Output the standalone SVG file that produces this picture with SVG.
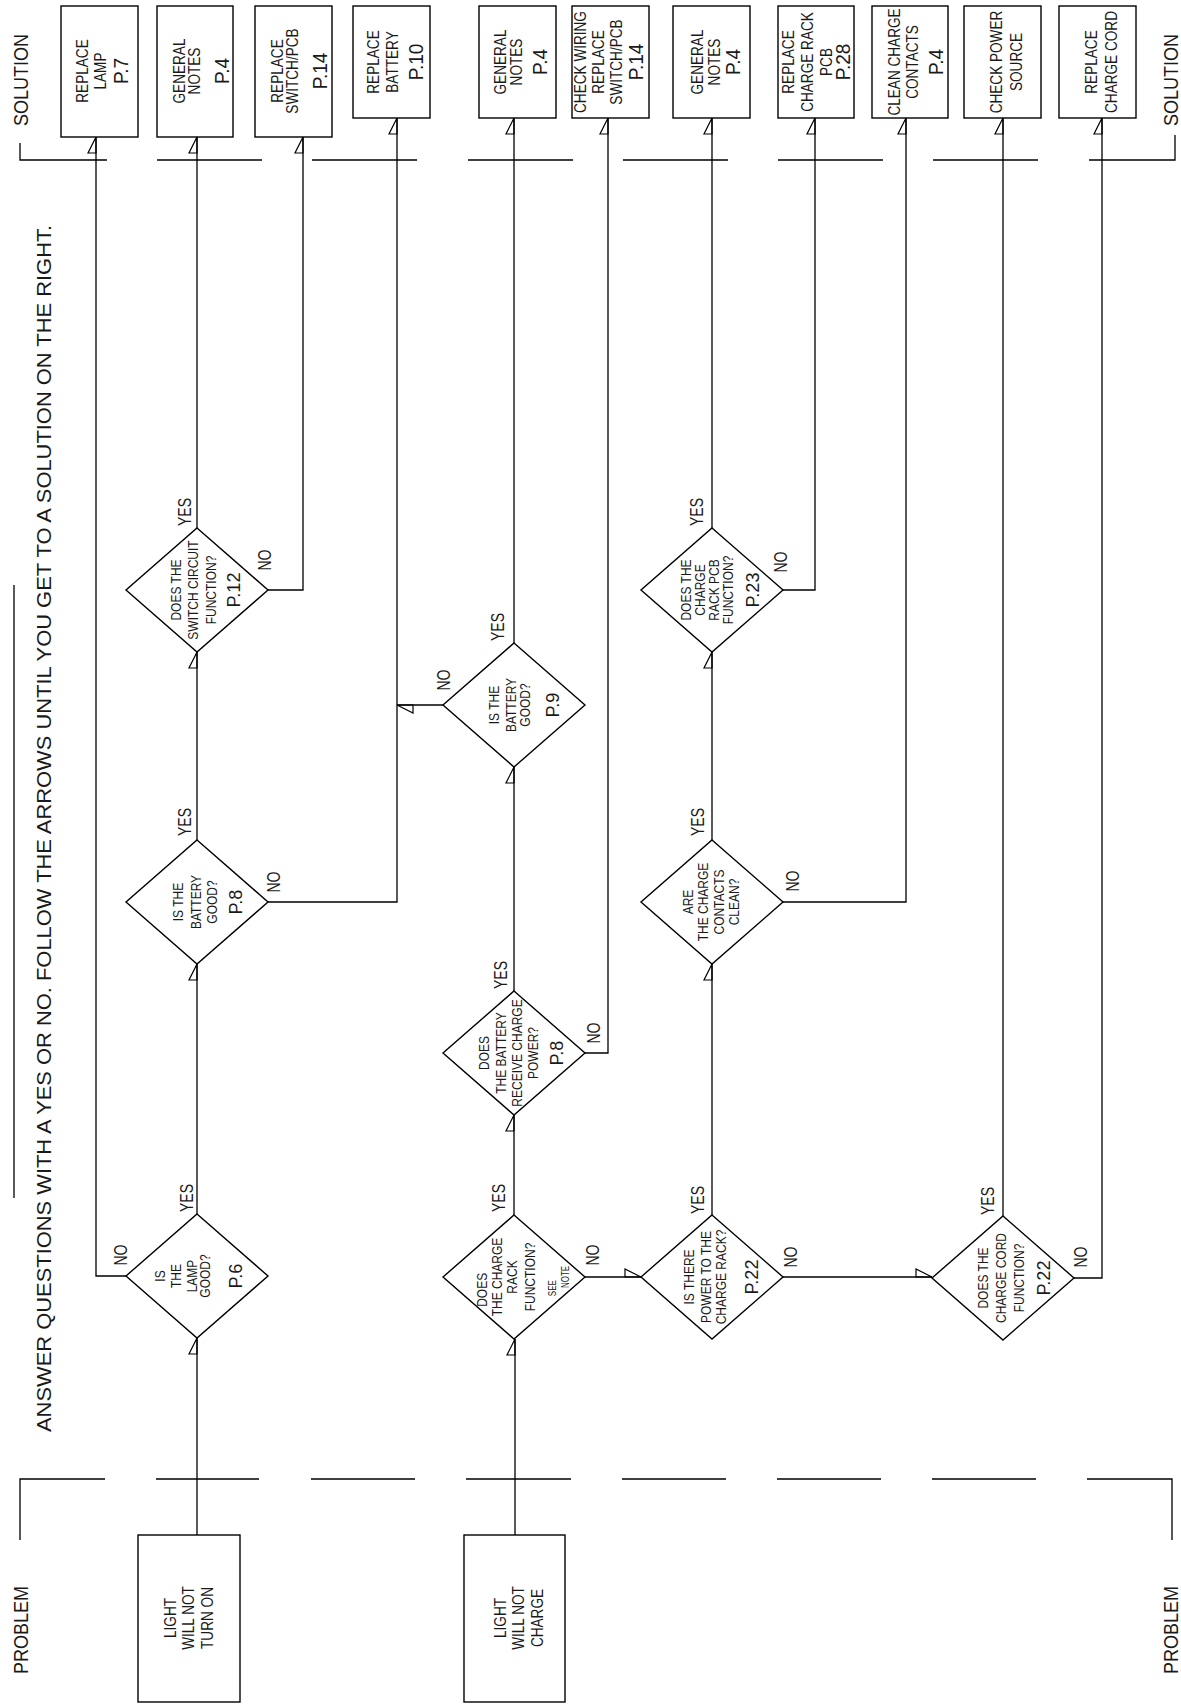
<svg xmlns="http://www.w3.org/2000/svg" width="1181" height="1704" viewBox="0 0 1181 1704">
<style>
.ln{fill:none;stroke:#000;stroke-width:1.3}
.sh{fill:none;stroke:#000;stroke-width:1.4}
text{font-family:"Liberation Sans",Arial,sans-serif;fill:#1a1a1a;text-anchor:middle;dominant-baseline:central}
.w{font-size:17px}
.pg{font-size:20px}
.dw{font-size:15px}
.dp{font-size:19px}
.lb{font-size:18px}
.sm{font-size:10px}
.hd{font-size:20px;text-anchor:start}
.ttl{font-size:20px}
</style>
<defs>
<marker id="ah" markerUnits="userSpaceOnUse" orient="auto" refX="0" refY="0" markerWidth="1" markerHeight="1" style="overflow:visible"><path d="M0,0 L-16,-8 L-16,0 Z" fill="none" stroke="#000" stroke-width="1.2"/></marker>
<polygon id="dia" points="0,-62 71,0 0,62 -71,0" class="sh"/>
</defs>
<rect width="1181" height="1704" fill="#fff"/>

<g id="frame">
<path class="ln" d="M14,585 V1198"/>
<path class="ln" d="M20,143 V160 H107 M157,160 H262 M312,160 H417 M468,160 H573 M623,160 H728 M778,160 H883 M933,160 H1038 M1089,160 H1175 V135"/>
<path class="ln" d="M20,1540 V1479 H105 M156,1479 H259 M311,1479 H415 M466,1479 H571 M622,1479 H726 M777,1479 H881 M932,1479 H1036 M1087,1479 H1172 V1540"/>
<text class="hd" transform="translate(44,1432) rotate(-90)" textLength="1207" lengthAdjust="spacingAndGlyphs">ANSWER QUESTIONS WITH A YES OR NO. FOLLOW THE ARROWS UNTIL YOU GET TO A SOLUTION ON THE RIGHT.</text>
<text class="ttl" transform="translate(21,80) rotate(-90) scale(.9,1)">SOLUTION</text>
<text class="ttl" transform="translate(1171,80) rotate(-90) scale(.9,1)">SOLUTION</text>
<text class="ttl" transform="translate(21,1630) rotate(-90) scale(.9,1)">PROBLEM</text>
<text class="ttl" transform="translate(1171,1630) rotate(-90) scale(.9,1)">PROBLEM</text>
</g>

<g id="connectors">
<path class="ln" marker-end="url(#ah)" d="M197,1535 V1338"/>
<path class="ln" marker-end="url(#ah)" d="M197,1214 V964"/>
<path class="ln" marker-end="url(#ah)" d="M126,1276 H96 V137"/>
<path class="ln" marker-end="url(#ah)" d="M197,840 V652"/>
<path class="ln" marker-end="url(#ah)" d="M268,902 H397 V118"/>
<path class="ln" marker-end="url(#ah)" d="M197,528 V137"/>
<path class="ln" marker-end="url(#ah)" d="M268,590 H303 V137"/>
<path class="ln" marker-end="url(#ah)" d="M515,1535 V1339"/>
<path class="ln" marker-end="url(#ah)" d="M514,1215 V1115"/>
<path class="ln" marker-end="url(#ah)" d="M585,1277 H641"/>
<path class="ln" marker-end="url(#ah)" d="M514,991 V767"/>
<path class="ln" marker-end="url(#ah)" d="M585,1053 H608 V118"/>
<path class="ln" marker-end="url(#ah)" d="M514,643 V118"/>
<path class="ln" marker-end="url(#ah)" d="M443,705 H397"/>
<path class="ln" marker-end="url(#ah)" d="M712,1215 V964"/>
<path class="ln" marker-end="url(#ah)" d="M783,1277 H932"/>
<path class="ln" marker-end="url(#ah)" d="M712,840 V652"/>
<path class="ln" marker-end="url(#ah)" d="M783,902 H906 V118"/>
<path class="ln" marker-end="url(#ah)" d="M712,528 V118"/>
<path class="ln" marker-end="url(#ah)" d="M783,590 H815 V118"/>
<path class="ln" marker-end="url(#ah)" d="M1003,1216 V118"/>
<path class="ln" marker-end="url(#ah)" d="M1074,1278 H1102 V118"/>
</g>

<g id="labels">
<text class="lb" transform="translate(186,1198) rotate(-90) scale(.78,1)">YES</text>
<text class="lb" transform="translate(120,1255) rotate(-90) scale(.78,1)">NO</text>
<text class="lb" transform="translate(184,822) rotate(-90) scale(.78,1)">YES</text>
<text class="lb" transform="translate(273,882) rotate(-90) scale(.78,1)">NO</text>
<text class="lb" transform="translate(184,512) rotate(-90) scale(.78,1)">YES</text>
<text class="lb" transform="translate(264,560) rotate(-90) scale(.78,1)">NO</text>
<text class="lb" transform="translate(498,1198) rotate(-90) scale(.78,1)">YES</text>
<text class="lb" transform="translate(592,1255) rotate(-90) scale(.78,1)">NO</text>
<text class="lb" transform="translate(500,975) rotate(-90) scale(.78,1)">YES</text>
<text class="lb" transform="translate(593,1033) rotate(-90) scale(.78,1)">NO</text>
<text class="lb" transform="translate(497,627) rotate(-90) scale(.78,1)">YES</text>
<text class="lb" transform="translate(443,680) rotate(-90) scale(.78,1)">NO</text>
<text class="lb" transform="translate(697,1200) rotate(-90) scale(.78,1)">YES</text>
<text class="lb" transform="translate(790,1257) rotate(-90) scale(.78,1)">NO</text>
<text class="lb" transform="translate(697,822) rotate(-90) scale(.78,1)">YES</text>
<text class="lb" transform="translate(792,881) rotate(-90) scale(.78,1)">NO</text>
<text class="lb" transform="translate(696,512) rotate(-90) scale(.78,1)">YES</text>
<text class="lb" transform="translate(780,562) rotate(-90) scale(.78,1)">NO</text>
<text class="lb" transform="translate(987,1201) rotate(-90) scale(.78,1)">YES</text>
<text class="lb" transform="translate(1080,1257) rotate(-90) scale(.78,1)">NO</text>
</g>

<g id="p1"><rect class="sh" x="138" y="1535" width="102" height="167"/>
<g transform="translate(189,1618) rotate(-90) scale(.8,1)">
<text class="w" y="-19">LIGHT</text><text class="w" y="-1">WILL NOT</text><text class="w" y="18">TURN ON</text></g></g>
<g id="p2"><rect class="sh" x="464" y="1535" width="101" height="167"/>
<g transform="translate(514.5,1618) rotate(-90) scale(.8,1)">
<text class="w" y="-14.5">LIGHT</text><text class="w" y="3.5">WILL NOT</text><text class="w" y="22.5">CHARGE</text></g></g>

<g id="s1"><rect class="sh" x="61" y="6" width="77" height="131"/>
<g transform="translate(99.5,71) rotate(-90) scale(.8,1)">
<text class="w" y="-17.5">REPLACE</text><text class="w" y="0.5">LAMP</text><text class="pg" y="21.5" transform="scale(1.19,1)">P.7</text></g></g>
<g id="s2"><rect class="sh" x="157" y="6" width="76" height="131"/>
<g transform="translate(195,71) rotate(-90) scale(.8,1)">
<text class="w" y="-16">GENERAL</text><text class="w" y="-1">NOTES</text><text class="pg" y="27" transform="scale(1.19,1)">P.4</text></g></g>
<g id="s3"><rect class="sh" x="255" y="6" width="77" height="131"/>
<g transform="translate(293.5,71) rotate(-90) scale(.8,1)">
<text class="w" y="-16.5">REPLACE</text><text class="w" y="-1.5">SWITCH/PCB</text><text class="pg" y="26.5" transform="scale(1.19,1)">P.14</text></g></g>
<g id="s4"><rect class="sh" x="353" y="6" width="77" height="112"/>
<g transform="translate(391.5,62) rotate(-90) scale(.8,1)">
<text class="w" y="-18.5">REPLACE</text><text class="w" y="0">BATTERY</text><text class="pg" y="24.5" transform="scale(1.19,1)">P.10</text></g></g>
<g id="s5"><rect class="sh" x="479" y="6" width="77" height="112"/>
<g transform="translate(517.5,62) rotate(-90) scale(.8,1)">
<text class="w" y="-17.5">GENERAL</text><text class="w" y="-1.5">NOTES</text><text class="pg" y="22.5" transform="scale(1.19,1)">P.4</text></g></g>
<g id="s6"><rect class="sh" x="572" y="6" width="77" height="112"/>
<g transform="translate(610.5,62) rotate(-90) scale(.8,1)">
<text class="w" y="-30.5">CHECK  WIRING</text><text class="w" y="-12.5">REPLACE</text><text class="w" y="5.5">SWITCH/PCB</text><text class="pg" y="25.5" transform="scale(1.19,1)">P.14</text></g></g>
<g id="s7"><rect class="sh" x="673" y="6" width="77" height="112"/>
<g transform="translate(711.5,62) rotate(-90) scale(.8,1)">
<text class="w" y="-14.5">GENERAL</text><text class="w" y="2.5">NOTES</text><text class="pg" y="21.5" transform="scale(1.19,1)">P.4</text></g></g>
<g id="s8"><rect class="sh" x="778" y="6" width="76" height="112"/>
<g transform="translate(816,62) rotate(-90) scale(.8,1)">
<text class="w" y="-28">REPLACE</text><text class="w" y="-9">CHARGE RACK</text><text class="w" y="10">PCB</text><text class="pg" y="27" transform="scale(1.19,1)">P.28</text></g></g>
<g id="s9"><rect class="sh" x="872" y="6" width="76" height="112"/>
<g transform="translate(910,62) rotate(-90) scale(.8,1)">
<text class="w" y="-16">CLEAN CHARGE</text><text class="w" y="2">CONTACTS</text><text class="pg" y="26" transform="scale(1.19,1)">P.4</text></g></g>
<g id="s10"><rect class="sh" x="964" y="6" width="77" height="112"/>
<g transform="translate(1002.5,62) rotate(-90) scale(.8,1)">
<text class="w" y="-6.5">CHECK POWER</text><text class="w" y="13.5">SOURCE</text></g></g>
<g id="s11"><rect class="sh" x="1059" y="6" width="77" height="112"/>
<g transform="translate(1097.5,62) rotate(-90) scale(.8,1)">
<text class="w" y="-6.5">REPLACE</text><text class="w" y="13.5">CHARGE CORD</text></g></g>

<g id="d1" transform="translate(197,1276)"><use href="#dia"/>
<g transform="rotate(-90) scale(.8,1)">
<text class="dw" y="-37">IS</text><text class="dw" y="-21">THE</text><text class="dw" y="-5">LAMP</text><text class="dw" y="8">GOOD?</text><text class="dp" y="38" transform="scale(1.19,1)">P.6</text></g></g>
<g id="d2" transform="translate(197,902)"><use href="#dia"/>
<g transform="rotate(-90) scale(.8,1)">
<text class="dw" y="-19">IS THE</text><text class="dw" y="-1">BATTERY</text><text class="dw" y="15">GOOD?</text><text class="dp" y="38" transform="scale(1.19,1)">P.8</text></g></g>
<g id="d3" transform="translate(197,590)"><use href="#dia"/>
<g transform="rotate(-90) scale(.8,1)">
<text class="dw" y="-21">DOES THE</text><text class="dw" y="-4">SWITCH CIRCUIT</text><text class="dw" y="14">FUNCTION?</text><text class="dp" y="36" transform="scale(1.19,1)">P.12</text></g></g>
<g id="d4" transform="translate(514,1277)"><use href="#dia"/>
<g transform="rotate(-90) scale(.8,1)">
<text class="dw" x="-16" y="-32">DOES</text><text class="dw" y="-17">THE CHARGE</text><text class="dw" y="-2">RACK</text><text class="dw" y="16">FUNCTION?</text><text class="sm" x="-14" y="39">SEE</text><text class="sm" y="52">NOTE</text></g></g>
<g id="d5" transform="translate(514,1053)"><use href="#dia"/>
<g transform="rotate(-90) scale(.8,1)">
<text class="dw" y="-30">DOES</text><text class="dw" y="-13">THE BATTERY</text><text class="dw" y="3">RECEIVE CHARGE</text><text class="dw" y="19">POWER?</text><text class="dp" y="42" transform="scale(1.19,1)">P.8</text></g></g>
<g id="d6" transform="translate(514,705)"><use href="#dia"/>
<g transform="rotate(-90) scale(.8,1)">
<text class="dw" y="-20">IS THE</text><text class="dw" y="-3">BATTERY</text><text class="dw" y="11">GOOD?</text><text class="dp" y="38" transform="scale(1.19,1)">P.9</text></g></g>
<g id="d7" transform="translate(712,1277)"><use href="#dia"/>
<g transform="rotate(-90) scale(.8,1)">
<text class="dw" y="-23">IS THERE</text><text class="dw" y="-6">POWER TO THE</text><text class="dw" y="9">CHARGE RACK?</text><text class="dp" y="39" transform="scale(1.19,1)">P.22</text></g></g>
<g id="d8" transform="translate(712,902)"><use href="#dia"/>
<g transform="rotate(-90) scale(.8,1)">
<text class="dw" y="-24">ARE</text><text class="dw" y="-9">THE CHARGE</text><text class="dw" y="7">CONTACTS</text><text class="dw" y="22">CLEAN?</text></g></g>
<g id="d9" transform="translate(712,590)"><use href="#dia"/>
<g transform="rotate(-90) scale(.8,1)">
<text class="dw" y="-26">DOES THE</text><text class="dw" y="-12">CHARGE</text><text class="dw" y="2">RACK PCB</text><text class="dw" y="16">FUNCTION?</text><text class="dp" y="40" transform="scale(1.19,1)">P.23</text></g></g>
<g id="d10" transform="translate(1003,1278)"><use href="#dia"/>
<g transform="rotate(-90) scale(.8,1)">
<text class="dw" y="-20">DOES THE</text><text class="dw" y="-2">CHARGE CORD</text><text class="dw" y="16">FUNCTION?</text><text class="dp" y="40" transform="scale(1.19,1)">P.22</text></g></g>
</svg>
